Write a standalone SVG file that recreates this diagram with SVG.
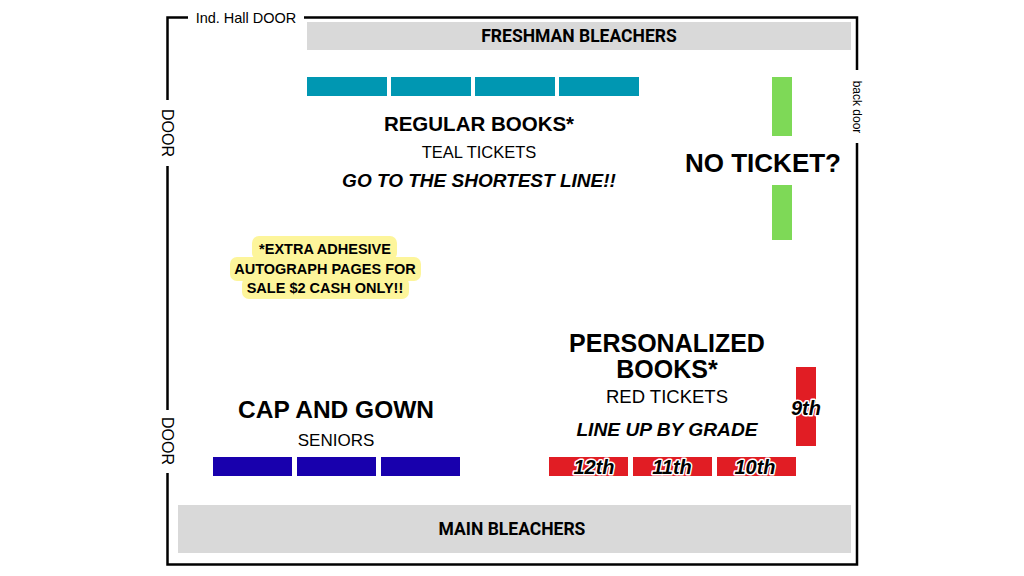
<svg xmlns="http://www.w3.org/2000/svg" width="1024" height="576" viewBox="0 0 1024 576">
<style>
text{font-family:"Liberation Sans",Arial,sans-serif;fill:#000;text-anchor:middle}
.b{font-weight:bold}
.bi{font-weight:bold;font-style:italic}
.cond{font-family:Roboto,"Liberation Sans",sans-serif;font-weight:bold;font-size:17.5px}
.wall{stroke:#000;stroke-width:2.5;fill:none}
.bleach{fill:#d9d9d9}
.teal{fill:#0097b2}
.green{fill:#7ed957}
.blue{fill:#1800ad}
.red{fill:#e11d24}
.grade{font-weight:bold;font-style:italic;font-size:20px;stroke:#fff;stroke-width:3;paint-order:stroke;stroke-linejoin:round}
</style>
<rect width="1024" height="576" fill="#fff"/>
<g id="walls">
<path class="wall" d="M188 17.5H167.5V100M167.5 166V410M167.5 473V564.5H857V143M857 70V17.5H304"/>
<text x="246" y="23" font-size="14.5">Ind. Hall DOOR</text>
<text transform="translate(161.5,133) rotate(90)" font-size="16">DOOR</text>
<text transform="translate(161.5,441) rotate(90)" font-size="16">DOOR</text>
<text transform="translate(853,107) rotate(90)" font-size="12">back door</text>
</g>
<g id="freshman-bleachers">
<rect class="bleach" x="307" y="22" width="544" height="28"/>
<text class="cond" x="579" y="42">FRESHMAN BLEACHERS</text>
</g>
<g id="main-bleachers">
<rect class="bleach" x="178" y="505" width="673" height="48"/>
<text class="cond" x="512" y="535">MAIN BLEACHERS</text>
</g>
<g id="regular-books">
<rect class="teal" x="307" y="77" width="80" height="19"/>
<rect class="teal" x="391" y="77" width="80" height="19"/>
<rect class="teal" x="475" y="77" width="80" height="19"/>
<rect class="teal" x="559" y="77" width="80" height="19"/>
<text class="b" x="479" y="131" font-size="20.5">REGULAR BOOKS*</text>
<text x="479" y="158" font-size="16.5">TEAL TICKETS</text>
<text class="bi" x="479" y="187" font-size="19">GO TO THE SHORTEST LINE!!</text>
</g>
<g id="no-ticket">
<rect class="green" x="772" y="77" width="20" height="59"/>
<rect class="green" x="772" y="185" width="20" height="55"/>
<text class="b" x="763" y="172" font-size="26">NO TICKET?</text>
</g>
<g id="extra-pages">
<rect x="252" y="236" width="145" height="24" rx="7" fill="#fdf59b"/>
<rect x="230" y="257" width="191" height="24" rx="7" fill="#fdf59b"/>
<rect x="242" y="277" width="167" height="22" rx="7" fill="#fdf59b"/>
<text class="b" x="325" y="254" font-size="14.5">*EXTRA ADHESIVE</text>
<text class="b" x="325" y="274" font-size="14.5">AUTOGRAPH PAGES FOR</text>
<text class="b" x="325" y="293" font-size="14.5">SALE $2 CASH ONLY!!</text>
</g>
<g id="cap-and-gown">
<rect class="blue" x="213" y="457" width="79" height="19"/>
<rect class="blue" x="297" y="457" width="79" height="19"/>
<rect class="blue" x="381" y="457" width="79" height="19"/>
<text class="b" x="336" y="418" font-size="24.5">CAP AND GOWN</text>
<text x="336" y="446" font-size="17">SENIORS</text>
</g>
<g id="personalized-books">
<text class="b" x="667" y="352" font-size="25">PERSONALIZED</text>
<text class="b" x="667" y="378" font-size="25">BOOKS*</text>
<text x="667" y="403" font-size="18.5">RED TICKETS</text>
<text class="bi" x="667" y="436" font-size="19.2">LINE UP BY GRADE</text>
<rect class="red" x="549" y="457" width="79" height="19"/>
<rect class="red" x="633" y="457" width="79" height="19"/>
<rect class="red" x="717" y="457" width="79" height="19"/>
<rect class="red" x="796" y="367" width="20" height="79"/>
<text class="grade" x="594" y="474">12th</text>
<text class="grade" x="672" y="474">11th</text>
<text class="grade" x="755" y="474">10th</text>
<text class="grade" x="806" y="415">9th</text>
</g>
</svg>
